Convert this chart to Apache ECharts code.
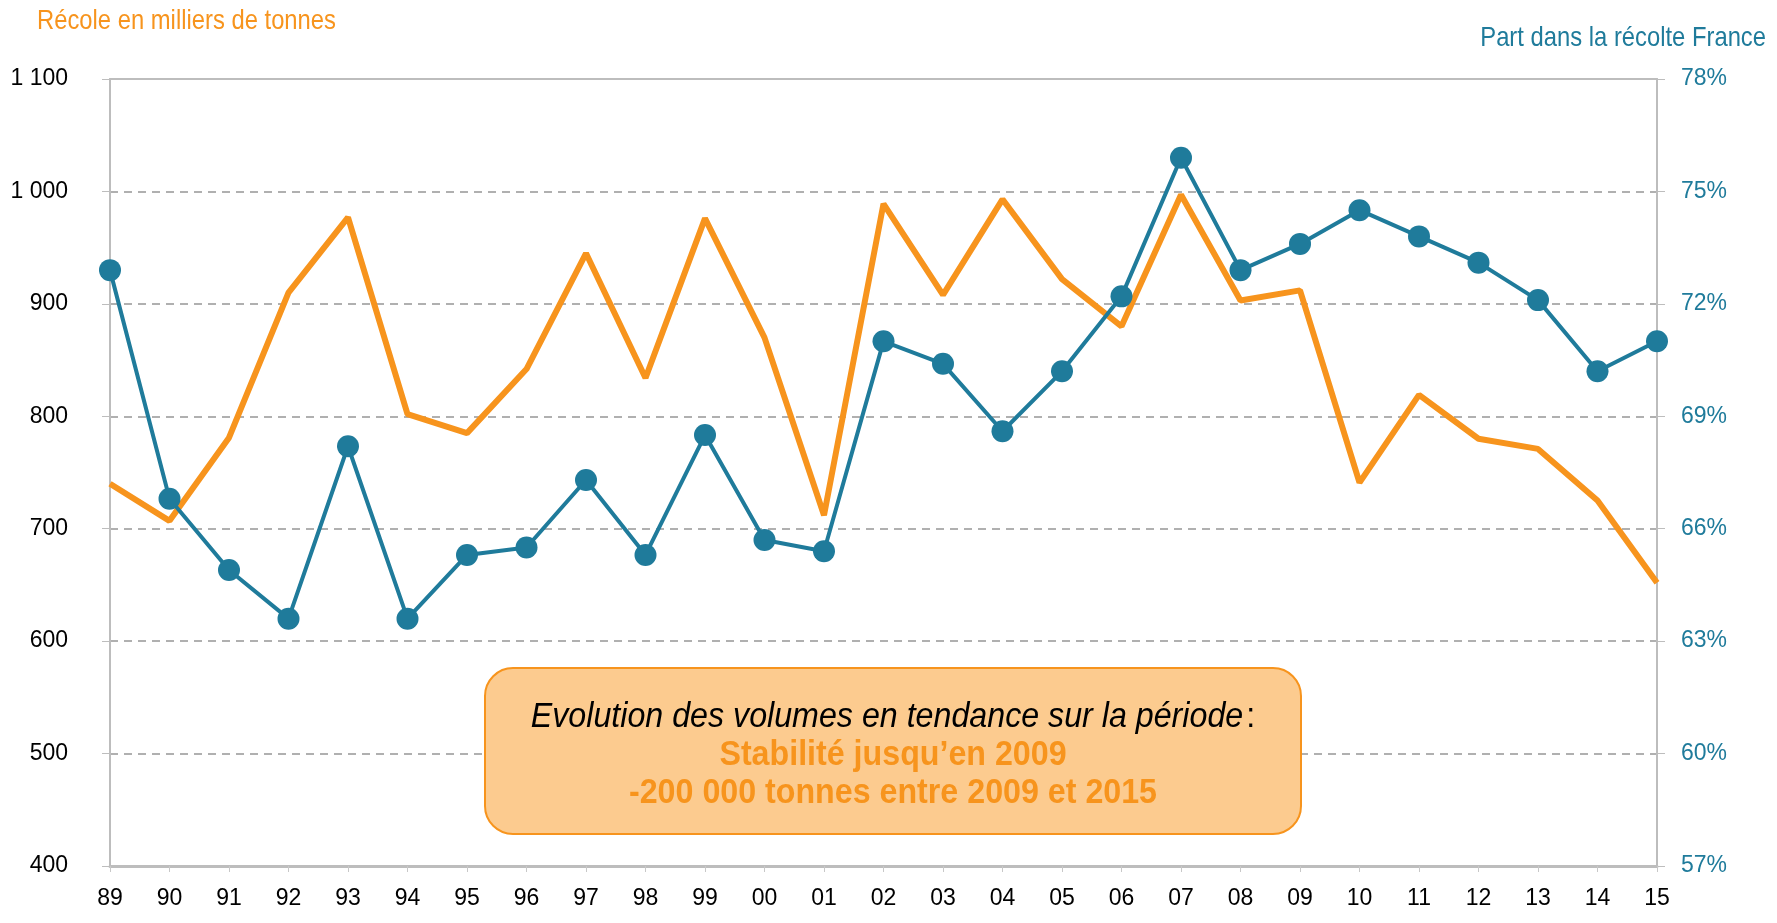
<!DOCTYPE html>
<html>
<head>
<meta charset="utf-8">
<script src="https://cdn.jsdelivr.net/npm/echarts@6/dist/echarts.min.js"></script>
<style>
  html, body { margin: 0; padding: 0; background: #fff; }
  #main { width: 1777px; height: 923px; }
</style>
</head>
<body>
<div id="main"></div>
<script>
// années (libellés de l'axe)
var annees = ['89','90','91','92','93','94','95','96','97','98','99','00','01','02',
              '03','04','05','06','07','08','09','10','11','12','13','14','15'];
// récolte en milliers de tonnes
var recolte = [740, 707, 781, 910, 977, 802, 785, 842, 945, 834, 976, 870, 712, 989,
               908, 993, 922, 880, 997, 903, 912, 741, 819, 780, 771, 725, 652];
// part dans la récolte France (%)
var part = [72.9, 66.8, 64.9, 63.6, 68.2, 63.6, 65.3, 65.5, 67.3, 65.3, 68.5, 65.7, 65.4, 71.0,
            70.4, 68.6, 70.2, 72.2, 75.9, 72.9, 73.6, 74.5, 73.8, 73.1, 72.1, 70.2, 71.0];

var orange = '#f7941d';
var bleu = '#1f7b9b';
var police = '"Liberation Sans", Arial, sans-serif';
var etroit = 0.85; // resserre le texte (police étroite dans l'original)
var etroitCadre = 0.92;

var myChart = echarts.init(document.getElementById('main'));

var option = {
    animation: false,
    grid: { left: 110, right: 120, top: 79, bottom: 57 },
    xAxis: [{
        type: 'category',
        data: annees,
        boundaryGap: false,
        axisLine: { lineStyle: { color: '#bdbdbd', width: 3 } },
        axisTick: { show: true, length: 6, lineStyle: { color: '#c8c8c8' } },
        axisLabel: { color: '#000', fontSize: 23, fontFamily: police, margin: 21 }
    }, {
        type: 'category',
        data: annees,
        position: 'top',
        boundaryGap: false,
        axisLine: { lineStyle: { color: '#bdbdbd', width: 2 } },
        axisTick: { show: false },
        axisLabel: { show: false }
    }],
    yAxis: [{
        type: 'value',
        min: 400, max: 1100, interval: 100,
        axisLine: { show: true, lineStyle: { color: '#bdbdbd', width: 2 } },
        axisTick: { show: true, length: 8, lineStyle: { color: '#bdbdbd' } },
        axisLabel: {
            color: '#000', fontSize: 23, fontFamily: police, margin: 42,
            formatter: function (v) { return v >= 1000 ? '1 ' + String(v).slice(1) : v; }
        },
        splitLine: { lineStyle: { color: '#b0b0b0', type: [8, 6], width: 2 } }
    }, {
        type: 'value',
        min: 57, max: 78, interval: 3,
        position: 'right',
        axisLine: { show: true, lineStyle: { color: '#bdbdbd', width: 2 } },
        axisTick: { show: true, length: 8, lineStyle: { color: '#bdbdbd' } },
        axisLabel: { color: bleu, fontSize: 23, fontFamily: police, margin: 24, formatter: '{value}%' },
        splitLine: { show: false }
    }],
    series: [{
        name: 'Récolte',
        type: 'line',
        data: recolte,
        yAxisIndex: 0,
        symbol: 'none',
        lineStyle: { color: orange, width: 6 },
        z: 2
    }, {
        name: 'Part',
        type: 'line',
        data: part,
        yAxisIndex: 1,
        symbol: 'circle',
        symbolSize: 22,
        itemStyle: { color: bleu },
        lineStyle: { color: bleu, width: 4 },
        z: 3
    }],
    graphic: [{
        type: 'text',
        x: 37, y: 21, scaleX: etroit,
        style: { text: 'Récole en milliers de tonnes', fill: orange, font: '28px ' + police, verticalAlign: 'middle' }
    }, {
        type: 'text',
        x: 1766, y: 38, scaleX: etroit,
        style: { text: 'Part dans la récolte France', fill: bleu, font: '28px ' + police, align: 'right', verticalAlign: 'middle' }
    }, {
        type: 'rect',
        shape: { x: 485, y: 668, width: 816, height: 166, r: 28 },
        style: { fill: '#fccb8f', stroke: orange, lineWidth: 2 },
        z: 10
    }, {
        type: 'text',
        x: 893, y: 717, scaleX: etroitCadre,
        style: {
            rich: {
                it: { font: 'italic 35px ' + police, fill: '#000' },
                n: { font: '35px ' + police, fill: '#000' }
            },
            text: '{it|Evolution des volumes en tendance sur la période} {n|:}',
            align: 'center', verticalAlign: 'middle'
        },
        z: 11
    }, {
        type: 'text',
        x: 893, y: 755, scaleX: etroitCadre,
        style: {
            text: 'Stabilité jusqu\u2019en 2009', fill: orange,
            font: 'bold 35px ' + police, align: 'center', verticalAlign: 'middle'
        },
        z: 11
    }, {
        type: 'text',
        x: 893, y: 793, scaleX: etroitCadre,
        style: {
            text: '-200 000 tonnes entre 2009 et 2015', fill: orange,
            font: 'bold 35px ' + police, align: 'center', verticalAlign: 'middle'
        },
        z: 11
    }]
};

myChart.setOption(option);
</script>
</body>
</html>
